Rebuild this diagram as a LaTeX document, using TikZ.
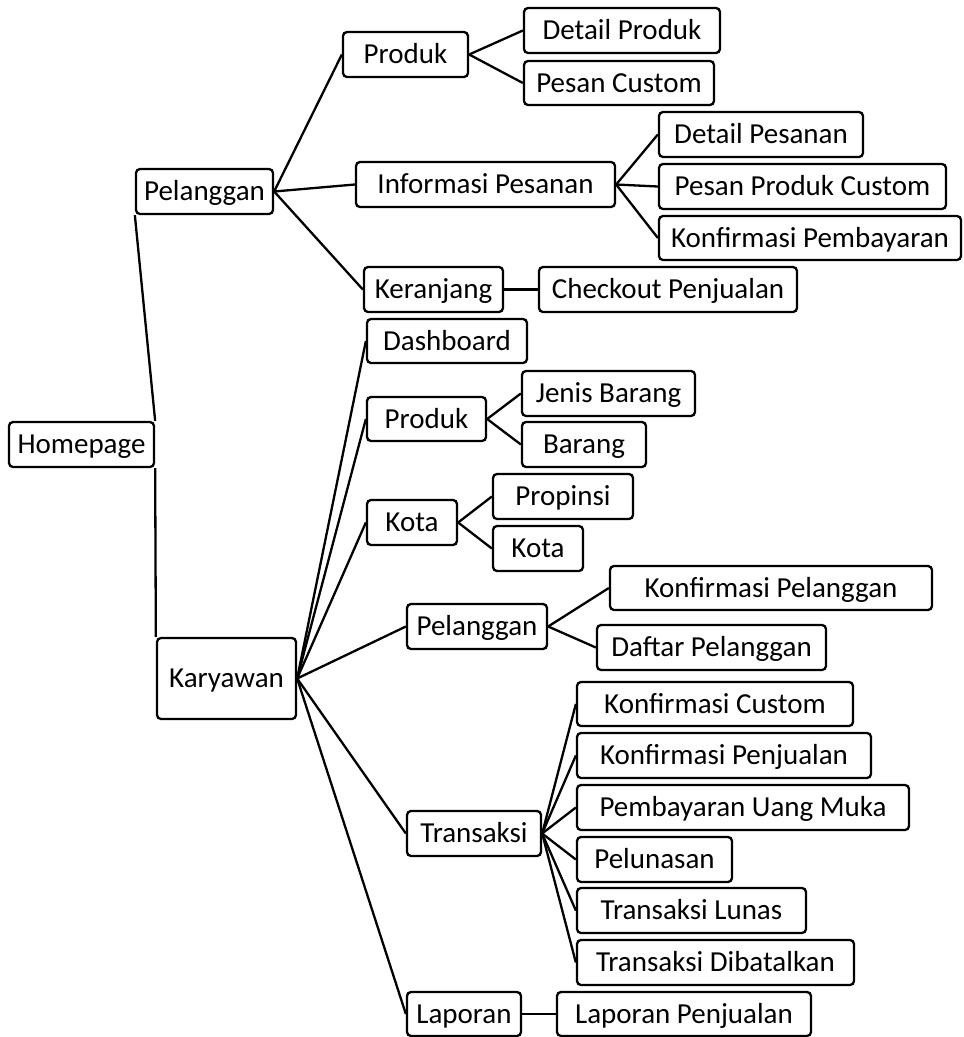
\documentclass[tikz,border=0pt]{standalone}
\usepackage{fontspec}
\setmainfont{Carlito}
\begin{document}
\begin{tikzpicture}[x=1pt,y=-1pt,
  box/.style={draw, line width=2.3pt, rounded corners=4pt, inner sep=0pt, align=center,
    text height=18.7pt, text depth=0pt,
    font=\fontsize{29}{34}\selectfont},
  link/.style={line width=2.3pt}]
\useasboundingbox (0,0) rectangle (964,1037);
% level 0
\node[box, minimum width=145pt, minimum height=45pt] (home) at (81.5,444.5) {Homepage};
% level 1
\node[box, minimum width=137pt, minimum height=45pt] (pel) at (204.5,191.5) {Pelanggan};
\node[box, minimum width=139pt, minimum height=81pt] (kar) at (226.5,678.5) {Karyawan};
% Pelanggan children
\node[box, minimum width=125pt, minimum height=45pt] (pprod) at (405.5,54.5) {Produk};
\node[box, minimum width=259pt, minimum height=45pt] (pinfo) at (485.5,184.5) {Informasi Pesanan};
\node[box, minimum width=139pt, minimum height=45pt] (pker) at (433.5,289.5) {Keranjang};
\node[box, minimum width=196pt, minimum height=45pt] (detprod) at (622,30.5) {Detail Produk};
\node[box, minimum width=190pt, minimum height=44pt] (pescus) at (619,83) {Pesan Custom};
\node[box, minimum width=204pt, minimum height=45pt] (detpes) at (761,134.5) {Detail Pesanan};
\node[box, minimum width=287pt, minimum height=45pt] (ppc) at (802.5,186.5) {Pesan Produk Custom};
\node[box, minimum width=302pt, minimum height=44pt] (kpb) at (810,238) {Konfirmasi Pembayaran};
\node[box, minimum width=258pt, minimum height=45pt] (checkout) at (668,289.5) {Checkout Penjualan};
% Karyawan children
\node[box, minimum width=160pt, minimum height=44pt] (dash) at (447,341) {Dashboard};
\node[box, minimum width=119pt, minimum height=44pt] (kprod) at (426.5,419) {Produk};
\node[box, minimum width=90pt, minimum height=45pt] (kota) at (412,522.5) {Kota};
\node[box, minimum width=140pt, minimum height=45pt] (kpel) at (477,626.5) {Pelanggan};
\node[box, minimum width=134pt, minimum height=45pt] (trans) at (474,833.5) {Transaksi};
\node[box, minimum width=114pt, minimum height=44pt] (lap) at (464,1014) {Laporan};
% grandchildren
\node[box, minimum width=173pt, minimum height=45pt] (jenis) at (608.5,393.5) {Jenis Barang};
\node[box, minimum width=124pt, minimum height=45pt] (barang) at (584,444.5) {Barang};
\node[box, minimum width=140pt, minimum height=45pt] (prop) at (563,496.5) {Propinsi};
\node[box, minimum width=90pt, minimum height=45pt] (kotac) at (538,548.5) {Kota};
\node[box, minimum width=322pt, minimum height=44pt] (konpel) at (771,588) {Konfirmasi Pelanggan};
\node[box, minimum width=229pt, minimum height=45pt] (daftar) at (711.5,647.5) {Daftar Pelanggan};
\node[box, minimum width=276pt, minimum height=44pt] (kc) at (715,704) {Konfirmasi Custom};
\node[box, minimum width=294pt, minimum height=45pt] (kpj) at (724,755.5) {Konfirmasi Penjualan};
\node[box, minimum width=332pt, minimum height=45pt] (pum) at (743,807.5) {Pembayaran Uang Muka};
\node[box, minimum width=155pt, minimum height=45pt] (pelun) at (654.5,859.5) {Pelunasan};
\node[box, minimum width=229pt, minimum height=45pt] (tl) at (691.5,910.5) {Transaksi Lunas};
\node[box, minimum width=277pt, minimum height=45pt] (td) at (715.5,962.5) {Transaksi Dibatalkan};
\node[box, minimum width=254pt, minimum height=44pt] (lapj) at (684,1014) {Laporan Penjualan};
% connectors
\draw[link] (home.north east) -- (pel.south west);
\draw[link] (home.south east) -- (kar.north west);
\foreach \c in {pprod,pinfo,pker} \draw[link] (pel.east) -- (\c.west);
\foreach \c in {detprod,pescus} \draw[link] (pprod.east) -- (\c.west);
\foreach \c in {detpes,ppc,kpb} \draw[link] (pinfo.east) -- (\c.west);
\draw[link] (pker.east) -- (checkout.west);
\foreach \c in {dash,kprod,kota,kpel,trans,lap} \draw[link] (kar.east) -- (\c.west);
\foreach \c in {jenis,barang} \draw[link] (kprod.east) -- (\c.west);
\foreach \c in {prop,kotac} \draw[link] (kota.east) -- (\c.west);
\foreach \c in {konpel,daftar} \draw[link] (kpel.east) -- (\c.west);
\foreach \c in {kc,kpj,pum,pelun,tl,td} \draw[link] (trans.east) -- (\c.west);
\draw[link] (lap.east) -- (lapj.west);
\end{tikzpicture}
\end{document}
